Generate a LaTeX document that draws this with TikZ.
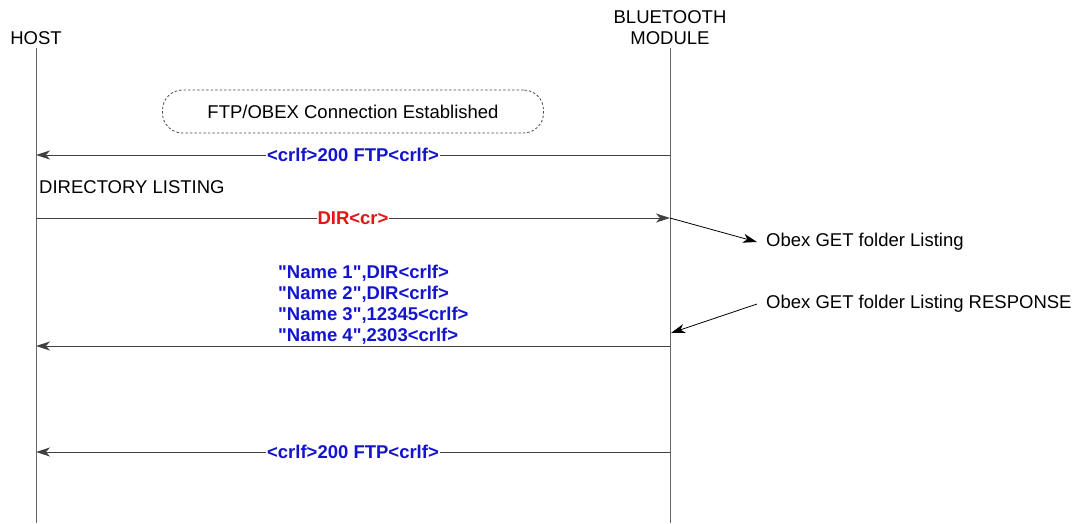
\documentclass[tikz,border=0pt]{standalone}
\usepackage{fontspec}
\setmainfont{Liberation Sans}
\usepackage{tikz}
\usetikzlibrary{arrows.meta}
\usetikzlibrary{positioning}

\definecolor{msgblue}{RGB}{20,20,205}
\definecolor{msgred}{RGB}{228,20,20}

\begin{document}
\begin{tikzpicture}[x=1pt,y=-1pt,
    every node/.style={font=\fontsize{18.5}{21}\selectfont, inner sep=0pt},
    lifeline/.style={draw=black!60, line width=1pt},
    msg/.style={draw=black!75, line width=1pt, -{Stealth[length=14pt,width=9pt,inset=4pt]}},
    note/.style={draw=black, line width=0.8pt, -{Stealth[length=14pt,width=9pt,inset=4pt]}},
    bluelbl/.style={fill=white, text=msgblue, inner xsep=1pt,
        font=\fontsize{18.5}{21}\selectfont\bfseries},
    redlbl/.style={fill=white, text=msgred, inner xsep=1pt,
        font=\fontsize{18.5}{21}\selectfont\bfseries},
    statebox/.style={draw=black!70, line width=0.8pt, dash pattern=on 2.5pt off 2pt,
        rounded corners=20pt, minimum width=381pt, minimum height=43pt}]
    \useasboundingbox (0,0) rectangle (1074,523);

    % lifelines
    \node (host) [anchor=base] at (36,44) {HOST};
    \node (btname) [anchor=base] at (670,23) {BLUETOOTH};
    \node (btmod) [anchor=base] at (670,44) {MODULE};
    \coordinate (hostend) at (36,523);
    \coordinate (btend) at (670,523);
    \draw[lifeline] ([yshift=-4pt]host.south) -- (hostend);
    \draw[lifeline] ([yshift=-4pt]btmod.south) -- (btend);

    \node (conn) [statebox] at (353,111.5) {FTP/OBEX Connection Established};

    \coordinate (h1) at (36,155);
    \coordinate (b1) at (670,155);
    \draw[msg] (b1) -- node [bluelbl] {<crlf>200 FTP<crlf>} (h1);

    \node (dirhead) [anchor=base west] at (39,193) {DIRECTORY LISTING};

    \coordinate (h2) at (36,218);
    \coordinate (b2) at (670,218);
    \draw[msg] (h2) -- node [redlbl] {DIR<cr>} (b2);

    \node (getnote) [anchor=west] at (766,242) {Obex GET folder Listing};
    \draw[note] (b2) -- ([xshift=-9pt]getnote.west);

    \node (dirlist) [anchor=north west, align=left, text=msgblue,
        font=\fontsize{18.5}{21}\selectfont\bfseries] at (278,265)
        {\textquotedbl Name 1\textquotedbl,DIR<crlf>\\
         \textquotedbl Name 2\textquotedbl,DIR<crlf>\\
         \textquotedbl Name 3\textquotedbl,12345<crlf>\\
         \textquotedbl Name 4\textquotedbl,2303<crlf>};

    \coordinate (h3) at (36,346);
    \coordinate (b3) at (670,346);
    \draw[msg] (b3) -- (h3);

    \node (rspnote) [anchor=west] at (766,304) {Obex GET folder Listing RESPONSE};
    \coordinate (b3tip) at (671,333);
    \draw[note] ([xshift=-9pt]rspnote.west) -- (b3tip);

    \coordinate (h4) at (36,452);
    \coordinate (b4) at (670,452);
    \draw[msg] (b4) -- node [bluelbl] {<crlf>200 FTP<crlf>} (h4);
\end{tikzpicture}
\end{document}
